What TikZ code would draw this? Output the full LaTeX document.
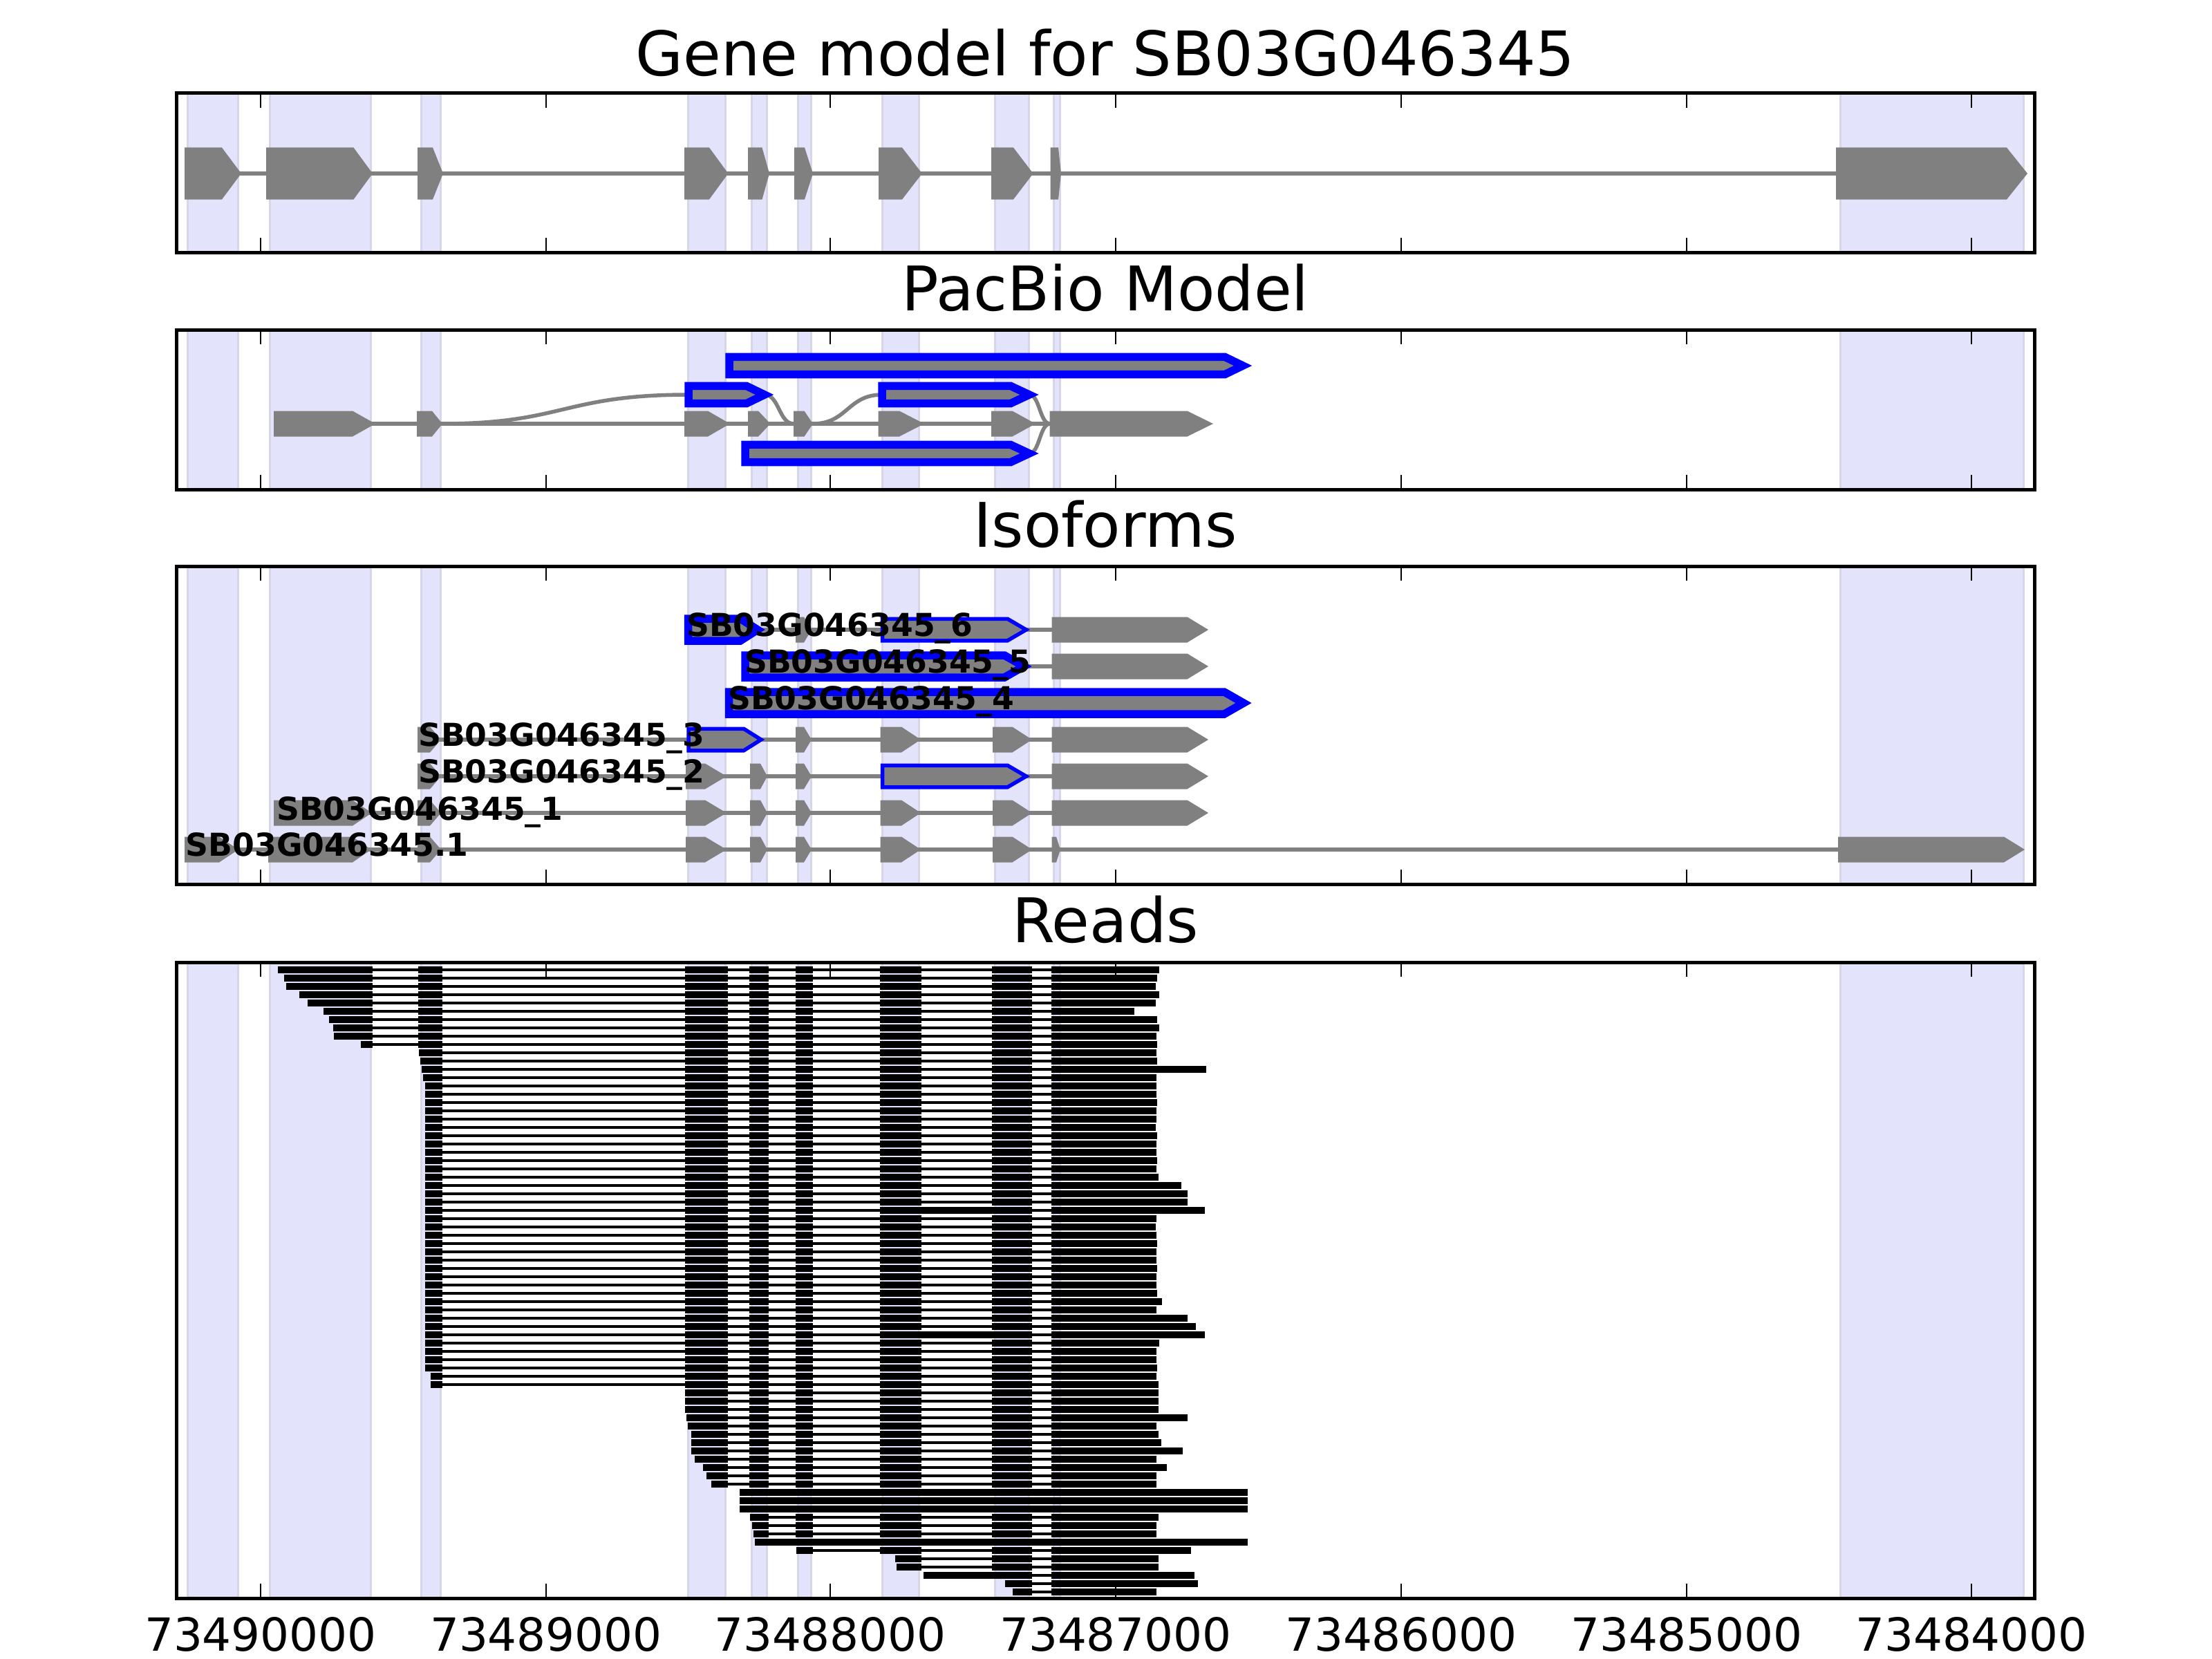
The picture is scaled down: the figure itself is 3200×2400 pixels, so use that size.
\documentclass[tikz,border=0pt]{standalone}
\usepackage{fontspec}
\setmainfont{DejaVu Sans}
\definecolor{exgray}{RGB}{128,128,128}
\definecolor{bandfill}{RGB}{227,227,252}
\definecolor{bandedge}{RGB}{214,214,232}
\tikzset{
  band/.style={fill=bandfill, draw=bandedge, line width=3},
  intron/.style={draw=exgray, line width=5.5},
  spine/.style={draw=black, line width=5},
  tickm/.style={draw=black, line width=2.8},
  ptitle/.style={anchor=base, font=\fontsize{89}{100}\selectfont, inner sep=0},
  ticklab/.style={anchor=base, font=\fontsize{66}{75}\selectfont, inner sep=0},
  isolab/.style={anchor=base west, font=\fontsize{45.7}{50}\selectfont\bfseries, inner sep=0},
  bluethick/.style={fill=exgray, draw=blue, line width=11.5, line join=miter},
  bluethin/.style={fill=exgray, draw=blue, line width=5.5, line join=miter},
}
% bands between two y values
\newcommand{\bands}[2]{\foreach \xa/\xb in {271/344.5,390/536.5,609/637,995.5/1049,1087.5/1109,1154.5/1173,1276/1329.5,1439/1488,1524/1533,2662/2927} {\path[band] (\xa,#1) rectangle (\xb,#2);}}
% spine box with ticks
\newcommand{\panelbox}[2]{\draw[spine] (255,#1) rectangle (2943,#2);
  \foreach \tx in {377,790,1201,1614,2027,2440,2852} {\draw[tickm] (\tx,#1) -- (\tx,#1+21); \draw[tickm] (\tx,#2) -- (\tx,#2-21);}}
% gray exon arrow: left, tip, head, y, half height
\newcommand{\gex}[5]{\fill[exgray] (#1,#4-#5) -- (#2-#3,#4-#5) -- (#2,#4) -- (#2-#3,#4+#5) -- (#1,#4+#5) -- cycle;}
% outlined exon arrow: style, left, tip, head, y, half height
\newcommand{\bex}[6]{\path[#1] (#2,#5-#6) -- (#3-#4,#5-#6) -- (#3,#5) -- (#3-#4,#5+#6) -- (#2,#5+#6) -- cycle;}
% reads
\newcommand{\rdrow}[4]{\draw[line width=4] (#2,#1) -- (#3,#1);
  \foreach \xa/\xb in {#4} {\fill (\xa,#1-4.75) rectangle (\xb,#1+4.75);}}
\newcommand{\rdA}[3]{\rdrow{#1}{#2}{#3}{#2/539,605/640,991/1053,1084/1112,1151/1176,1273/1333,1435/1493,1521/#3}}
\newcommand{\rdB}[3]{\rdrow{#1}{#2}{#3}{#2/640,991/1053,1084/1112,1151/1176,1273/1333,1435/1493,1521/#3}}
\newcommand{\rdBr}[3]{\rdrow{#1}{#2}{#3}{#2/640,991/1053,1084/1112,1151/1176,1273/1493,1521/#3}}
\newcommand{\rdC}[3]{\rdrow{#1}{#2}{#3}{#2/1053,1084/1112,1151/1176,1273/1333,1435/1493,1521/#3}}
\newcommand{\rdD}[3]{\rdrow{#1}{#2}{#3}{#2/1112,1151/1176,1273/1333,1435/1493,1521/#3}}
\newcommand{\rdE}[3]{\rdrow{#1}{#2}{#3}{#2/1176,1273/1333,1435/1493,1521/#3}}
\newcommand{\rdF}[3]{\rdrow{#1}{#2}{#3}{#2/1333,1435/1493,1521/#3}}
\newcommand{\rdG}[3]{\rdrow{#1}{#2}{#3}{#2/1493,1521/#3}}
\newcommand{\rdU}[3]{\rdrow{#1}{#2}{#3}{#2/#3}}
\begin{document}
\begin{tikzpicture}[x=1pt,y=-1pt]
\useasboundingbox (0,0) rectangle (3200,2400);
\fill[white] (0,0) rectangle (3200,2400);

% ---------------- Panel 1: gene model
\node[ptitle] (t1) at (1599,110) {Gene model for SB03G046345};
\bands{135}{365}
\draw[intron] (300,251) -- (2700,251);
\gex{267}{349}{28}{251}{37.5}
\gex{385}{539}{27.5}{251}{37.5}
\gex{604}{641}{15}{251}{37.5}
\gex{990}{1053.5}{27.5}{251}{37.5}
\gex{1082}{1113}{10.5}{251}{37.5}
\gex{1149}{1176}{12}{251}{37.5}
\gex{1271}{1334}{29}{251}{37.5}
\gex{1434}{1494.6}{28.6}{251}{37.5}
\gex{1519.7}{1535}{4}{251}{37.5}
\gex{2656}{2933}{30}{251}{37.5}
\panelbox{135}{365}

% ---------------- Panel 2: PacBio model
\node[ptitle] (t2) at (1599,449) {PacBio Model};
\bands{477}{708}
\draw[intron] (420,613) -- (1540,613);
\draw[intron] (640,613) .. controls (815,613) and (815,571) .. (996,571);
\draw[intron] (1106,571) .. controls (1127,571) and (1127,613) .. (1148,613);
\draw[intron] (1176,613) .. controls (1226,613) and (1226,571) .. (1276,571);
\draw[intron] (1489,571) .. controls (1504,571) and (1504,613) .. (1519,613);
\draw[intron] (1489,656) .. controls (1504,656) and (1504,613) .. (1519,613);
\gex{396}{543}{33}{613}{18.5}
\gex{603}{640}{15}{613}{18.5}
\gex{990}{1056}{32}{613}{18.5}
\gex{1082}{1114.5}{17.5}{613}{18.5}
\gex{1148}{1176}{12.5}{613}{18.5}
\gex{1270.6}{1337}{36}{613}{18.5}
\gex{1434}{1498}{33.5}{613}{18.5}
\gex{1518.6}{1755}{37.5}{613}{18.5}
\bex{bluethick}{1055}{1798}{26}{529}{12.6}
\bex{bluethick}{996}{1106}{26}{571}{12.6}
\bex{bluethick}{1276}{1489}{27}{571}{12.6}
\bex{bluethick}{1078}{1489}{27}{656}{12.6}
\panelbox{477}{708}

% ---------------- Panel 3: Isoforms
\node[ptitle] (t3) at (1599,791) {Isoforms};
\bands{819}{1279}
% row 6
\draw[intron] (1000,911) -- (1530,911);
\gex{1151}{1174}{11}{911}{18.5}
\bex{bluethick}{995.5}{1096}{25}{911}{16}
\bex{bluethin}{1276.5}{1484.5}{27}{911}{15.75}
\gex{1521.6}{1748}{30.5}{911}{18.5}
% row 5
\draw[intron] (1080,964) -- (1530,964);
\bex{bluethick}{1078}{1481}{28}{964}{16}
\gex{1521.6}{1748}{30.5}{964}{18.5}
% row 4
\bex{bluethick}{1054.5}{1799}{28}{1017}{16}
% row 3
\draw[intron] (610,1070) -- (1530,1070);
\gex{604}{638}{16}{1070}{18.5}
\bex{bluethin}{996}{1101}{25}{1070}{15.75}
\gex{1151}{1174}{11}{1070}{18.5}
\gex{1273.7}{1332}{28}{1070}{18.5}
\gex{1436}{1493}{28.5}{1070}{18.5}
\gex{1521.6}{1748}{30.5}{1070}{18.5}
% row 2
\draw[intron] (610,1123) -- (1530,1123);
\gex{604}{638}{16}{1123}{18.5}
\gex{992}{1051}{31}{1123}{18.5}
\gex{1085}{1110}{10}{1123}{18.5}
\gex{1151}{1174}{11}{1123}{18.5}
\bex{bluethin}{1276.5}{1484.5}{27}{1123}{15.75}
\gex{1521.6}{1748}{30.5}{1123}{18.5}
% row 1
\draw[intron] (400,1176) -- (1530,1176);
\gex{396}{538}{28}{1176}{18.5}
\gex{604}{638}{16}{1176}{18.5}
\gex{992}{1051}{31}{1176}{18.5}
\gex{1085}{1110}{10}{1176}{18.5}
\gex{1151}{1174}{11}{1176}{18.5}
\gex{1273.7}{1332}{28}{1176}{18.5}
\gex{1436}{1493}{28.5}{1176}{18.5}
\gex{1521.6}{1748}{30.5}{1176}{18.5}
% row .1
\draw[intron] (270,1229) -- (2680,1229);
\gex{267}{345}{28}{1229}{18.5}
\gex{388}{537}{27}{1229}{18.5}
\gex{604}{638}{16}{1229}{18.5}
\gex{992}{1051}{31}{1229}{18.5}
\gex{1085}{1110}{10}{1229}{18.5}
\gex{1151}{1174}{11}{1229}{18.5}
\gex{1273.7}{1332}{28}{1229}{18.5}
\gex{1436}{1493}{28.5}{1229}{18.5}
\gex{1521.6}{1534}{6}{1229}{18.5}
\gex{2659}{2929}{30}{1229}{18.5}
% labels
\node[isolab] (l6) at (993,920) {SB03G046345\_6};
\node[isolab] (l5) at (1077,973) {SB03G046345\_5};
\node[isolab] (l4) at (1053,1026) {SB03G046345\_4};
\node[isolab] (l3) at (605,1079) {SB03G046345\_3};
\node[isolab] (l2) at (605,1132) {SB03G046345\_2};
\node[isolab] (l1) at (400,1186) {SB03G046345\_1};
\node[isolab] (l0) at (268.6,1238) {SB03G046345.1};
\panelbox{819}{1279}

% ---------------- Panel 4: Reads
\node[ptitle] (t4) at (1599,1363) {Reads};
\bands{1392}{2312}
\rdA{1403}{402}{1677}
\rdA{1415}{411}{1674}
\rdA{1427}{413.5}{1672}
\rdA{1439}{433}{1677}
\rdA{1451}{445}{1672}
\rdA{1463}{467.5}{1641}
\rdA{1475}{475.7}{1674}
\rdA{1487}{482}{1677}
\rdA{1499}{483}{1673}
\rdA{1511}{521.6}{1674}
\rdB{1523}{606}{1673}
\rdB{1535}{608}{1674}
\rdB{1547}{610}{1745}
\rdB{1559}{612}{1673}
\rdB{1571}{614.5}{1673}
\rdB{1583}{614.5}{1673}
\rdB{1595}{614.5}{1674}
\rdB{1607}{614.5}{1673}
\rdB{1619}{614.5}{1673}
\rdB{1631}{614.5}{1672}
\rdB{1643}{614.5}{1674}
\rdB{1655}{614.5}{1673}
\rdB{1667}{614.5}{1673}
\rdB{1679}{614.5}{1674}
\rdB{1691}{614.5}{1673}
\rdB{1703}{614.5}{1676}
\rdB{1715}{614.5}{1709}
\rdB{1727}{614.5}{1718}
\rdB{1739}{614.5}{1718}
\rdBr{1751}{614.5}{1743}
\rdB{1763}{614.5}{1673}
\rdB{1775}{614.5}{1672}
\rdB{1787}{614.5}{1673}
\rdB{1799}{614.5}{1674}
\rdB{1811}{614.5}{1673}
\rdB{1823}{614.5}{1673}
\rdB{1835}{614.5}{1674}
\rdB{1847}{614.5}{1673}
\rdB{1859}{614.5}{1673}
\rdB{1871}{614.5}{1674}
\rdB{1883}{614.5}{1681}
\rdB{1895}{614.5}{1673}
\rdB{1907}{614.5}{1718}
\rdB{1919}{614.5}{1730}
\rdBr{1931}{614.5}{1743}
\rdB{1943}{614.5}{1677}
\rdB{1955}{614.5}{1673}
\rdB{1967}{614.5}{1673}
\rdB{1979}{614.5}{1674}
\rdB{1991}{623}{1673}
\rdB{2003}{623}{1676}
\rdC{2015}{991}{1676}
\rdC{2027}{991}{1676}
\rdC{2039}{991}{1676}
\rdC{2051}{993}{1718}
\rdC{2063}{995}{1673}
\rdC{2075}{1000}{1676}
\rdC{2087}{1000}{1680}
\rdC{2099}{1000}{1711}
\rdC{2111}{1005}{1673}
\rdC{2123}{1017}{1688}
\rdC{2135}{1022}{1673}
\rdC{2147}{1029}{1673}
\rdU{2159}{1070}{1805}
\rdU{2171}{1070}{1805}
\rdU{2183}{1070}{1805}
\rdD{2195}{1085}{1676}
\rdD{2207}{1088}{1673}
\rdD{2219}{1090}{1673}
\rdU{2231}{1092}{1805}
\rdE{2243}{1151.5}{1723}
\rdF{2255}{1295}{1676}
\rdF{2267}{1296.6}{1676}
\rdrow{2279}{1336}{1728}{1336/1493,1521/1728}
\rdG{2291}{1453.5}{1733}
\rdG{2303}{1465}{1673}
\panelbox{1392}{2312}
% tick labels
\node[ticklab] (x1) at (377,2388) {73490000};
\node[ticklab] (x2) at (790,2388) {73489000};
\node[ticklab] (x3) at (1201,2388) {73488000};
\node[ticklab] (x4) at (1614,2388) {73487000};
\node[ticklab] (x5) at (2027,2388) {73486000};
\node[ticklab] (x6) at (2440,2388) {73485000};
\node[ticklab] (x7) at (2852,2388) {73484000};
\end{tikzpicture}
\end{document}
